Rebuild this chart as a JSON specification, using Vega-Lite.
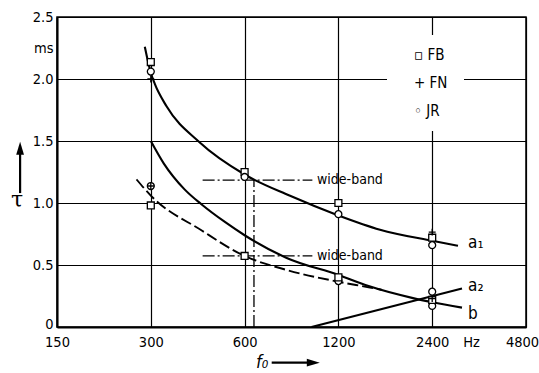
{
 "$schema": "https://vega.github.io/schema/vega-lite/v6.json",
 "width": 469, "height": 310,
 "autosize": {"type": "none"},
 "padding": {"left": 57, "top": 17, "right": 13, "bottom": 46},
 "background": "white",
 "config": {
  "view": {"stroke": "black", "strokeWidth": 1.5},
  "font": "DejaVu Sans Condensed, Liberation Sans, sans-serif",
  "axis": {"grid": true, "gridColor": "black", "gridWidth": 1.2, "gridOpacity": 1, "domainColor": "black", "domainWidth": 2, "ticks": false, "labelColor": "black", "labelFont": "DejaVu Sans Condensed, Liberation Sans, sans-serif", "labelFontSize": 14.5, "title": null},
  "text": {"color": "black"}
 },
 "datasets": {
  "obs": [
   {"subject": "FB", "f": 300, "tau": 2.137},
   {"subject": "JR", "f": 300, "tau": 2.06},
   {"subject": "FB", "f": 300, "tau": 0.98},
   {"subject": "JR", "f": 300, "tau": 1.137},
   {"subject": "FB", "f": 600, "tau": 1.25},
   {"subject": "JR", "f": 600, "tau": 1.21},
   {"subject": "FB", "f": 600, "tau": 0.573},
   {"subject": "FB", "f": 1200, "tau": 1.0},
   {"subject": "JR", "f": 1200, "tau": 0.91},
   {"subject": "JR", "f": 1200, "tau": 0.37},
   {"subject": "FB", "f": 1200, "tau": 0.40},
   {"subject": "FB", "f": 2400, "tau": 0.72},
   {"subject": "JR", "f": 2400, "tau": 0.66},
   {"subject": "JR", "f": 2400, "tau": 0.285},
   {"subject": "JR", "f": 2400, "tau": 0.17},
   {"subject": "FB", "f": 2400, "tau": 0.218},
   {"subject": "FN", "f": 300, "tau": 2.0},
   {"subject": "FN", "f": 300, "tau": 1.137},
   {"subject": "FN", "f": 2400, "tau": 0.765},
   {"subject": "FN", "f": 2400, "tau": 0.23}
  ],
  "curves": [
   {"curve": "a1", "f": 287, "tau": 2.26},
   {"curve": "a1", "f": 300, "tau": 2.05},
   {"curve": "a1", "f": 309, "tau": 1.96},
   {"curve": "a1", "f": 337, "tau": 1.78},
   {"curve": "a1", "f": 430, "tau": 1.49},
   {"curve": "a1", "f": 600, "tau": 1.23},
   {"curve": "a1", "f": 836, "tau": 1.06},
   {"curve": "a1", "f": 1200, "tau": 0.90},
   {"curve": "a1", "f": 1632, "tau": 0.785},
   {"curve": "a1", "f": 2400, "tau": 0.695},
   {"curve": "a1", "f": 2904, "tau": 0.655},
   {"curve": "b", "f": 300, "tau": 1.50},
   {"curve": "b", "f": 330, "tau": 1.32},
   {"curve": "b", "f": 385, "tau": 1.11},
   {"curve": "b", "f": 436, "tau": 0.99},
   {"curve": "b", "f": 520, "tau": 0.845},
   {"curve": "b", "f": 600, "tau": 0.74},
   {"curve": "b", "f": 819, "tau": 0.557},
   {"curve": "b", "f": 1200, "tau": 0.42},
   {"curve": "b", "f": 1500, "tau": 0.33},
   {"curve": "b", "f": 2083, "tau": 0.233},
   {"curve": "b", "f": 2400, "tau": 0.20},
   {"curve": "b", "f": 2991, "tau": 0.156},
   {"curve": "a2", "f": 984, "tau": 0},
   {"curve": "a2", "f": 2991, "tau": 0.31}
  ],
  "dashed": [
   {"f": 270, "tau": 1.19},
   {"f": 300, "tau": 1.06},
   {"f": 436, "tau": 0.78},
   {"f": 600, "tau": 0.573},
   {"f": 819, "tau": 0.46},
   {"f": 1200, "tau": 0.365},
   {"f": 1500, "tau": 0.32},
   {"f": 1650, "tau": 0.30}
  ],
  "wideband": [
   {"f1": 440, "f2": 990, "t1": 1.185, "t2": 1.185},
   {"f1": 440, "f2": 990, "t1": 0.573, "t2": 0.573},
   {"f1": 643, "f2": 643, "t1": 0, "t2": 1.185}
  ],
  "wbLabels": [
   {"text": "wide-band", "f": 1025, "tau": 1.185},
   {"text": "wide-band", "f": 1025, "tau": 0.573}
  ],
  "curveLabels": [
   {"text": "a₁", "f": 3128, "tau": 0.637},
   {"text": "a₂", "f": 3128, "tau": 0.29},
   {"text": "b", "f": 3128, "tau": 0.065}
  ],
  "tauLabel": [{"text": "τ", "f": 111.6, "tau": 1.024}],
  "fLabel": [{"text": "f₀", "f": 653, "tau": -0.33}],
  "arrows": [
   {"f1": 114.2, "f2": 114.2, "t1": 1.08, "t2": 1.43},
   {"f1": 733, "f2": 960, "t1": -0.288, "t2": -0.288}
  ],
  "headUp": [{"f": 114.2, "tau": 1.442}],
  "headRight": [{"f": 996.8, "tau": -0.288}]
 },
 "layer": [
  {
   "data": {"name": "curves"},
   "mark": {"type": "line", "interpolate": "monotone", "stroke": "black", "strokeWidth": 2.1, "strokeCap": "butt"},
   "encoding": {
    "x": {"field": "f", "type": "quantitative", "scale": {"type": "log", "base": 2, "domain": [150, 4800], "nice": false},
     "axis": {"values": [150, 300, 600, 1200, 2400, 3200, 4800], "labelExpr": "datum.value == 3200 ? 'Hz' : format(datum.value, 'd')", "gridColor": {"condition": {"test": "datum.value == 3200", "value": "transparent"}, "value": "black"}, "labelOffset": {"condition": {"test": "datum.value == 4800", "value": -4}, "value": 0}, "labelFlush": false, "labelOverlap": false, "labelPadding": 8}},
    "y": {"field": "tau", "type": "quantitative", "scale": {"domain": [0, 2.5], "nice": false, "zero": false},
     "axis": {"values": [0, 0.5, 1, 1.5, 2, 2.25, 2.5], "labelExpr": "datum.value == 2.25 ? 'ms' : (datum.value == 0 ? '0' : format(datum.value, '.1f'))", "gridColor": {"condition": {"test": "datum.value == 2.25", "value": "transparent"}, "value": "black"}, "labelOffset": {"condition": {"test": "datum.value == 0", "value": -3}, "value": 0}, "labelPadding": 4}},
    "detail": {"field": "curve", "type": "nominal"}
   }
  },
  {
   "data": {"name": "dashed"},
   "mark": {"type": "line", "interpolate": "monotone", "stroke": "black", "strokeWidth": 1.9, "strokeDash": [11, 4], "strokeCap": "butt"},
   "encoding": {
    "x": {"field": "f", "type": "quantitative"},
    "y": {"field": "tau", "type": "quantitative"}
   }
  },
  {
   "data": {"name": "wideband"},
   "mark": {"type": "rule", "stroke": "black", "strokeWidth": 1.3, "strokeDash": [12, 3, 2, 3]},
   "encoding": {
    "x": {"field": "f1", "type": "quantitative"},
    "x2": {"field": "f2"},
    "y": {"field": "t1", "type": "quantitative"},
    "y2": {"field": "t2"}
   }
  },
  {
   "data": {"name": "obs"},
   "mark": {"type": "point", "filled": false, "fill": "white", "color": "black", "stroke": "black", "strokeWidth": 1.3, "opacity": 1, "size": 48},
   "encoding": {
    "x": {"field": "f", "type": "quantitative"},
    "y": {"field": "tau", "type": "quantitative"},
    "shape": {"field": "subject", "type": "nominal",
     "scale": {"domain": ["FB", "FN", "JR"], "range": ["square", "M-1,0L1,0M0,-1L0,1", "circle"]},
     "legend": {"orient": "none", "legendX": 330, "legendY": 18, "title": null, "fillColor": "white", "padding": 12, "labelFont": "DejaVu Sans Condensed, Liberation Sans, sans-serif", "labelFontSize": 15, "labelColor": "black", "labelOffset": 0, "rowPadding": 12, "symbolSize": 0, "symbolOpacity": 0,
      "labelExpr": "datum.label == 'FB' ? '▫  FB' : (datum.label == 'FN' ? '+  FN' : '◦  JR')"}}
   }
  },
  {
   "data": {"name": "wbLabels"},
   "mark": {"type": "text", "align": "left", "baseline": "middle", "font": "DejaVu Sans Condensed, Liberation Sans, sans-serif", "fontSize": 14, "color": "black"},
   "encoding": {
    "x": {"field": "f", "type": "quantitative"},
    "y": {"field": "tau", "type": "quantitative"},
    "text": {"field": "text"}
   }
  },
  {
   "data": {"name": "curveLabels"},
   "mark": {"type": "text", "align": "left", "baseline": "alphabetic", "font": "DejaVu Sans Condensed, Liberation Sans, sans-serif", "fontSize": 17, "color": "black"},
   "encoding": {
    "x": {"field": "f", "type": "quantitative"},
    "y": {"field": "tau", "type": "quantitative"},
    "text": {"field": "text"}
   }
  },
  {
   "data": {"name": "tauLabel"},
   "mark": {"type": "text", "align": "center", "baseline": "middle", "font": "DejaVu Serif", "fontSize": 22, "color": "black"},
   "encoding": {
    "x": {"field": "f", "type": "quantitative"},
    "y": {"field": "tau", "type": "quantitative"},
    "text": {"field": "text"}
   }
  },
  {
   "data": {"name": "fLabel"},
   "mark": {"type": "text", "align": "left", "baseline": "alphabetic", "font": "DejaVu Sans Condensed, Liberation Sans, sans-serif", "fontStyle": "italic", "fontSize": 18, "color": "black"},
   "encoding": {
    "x": {"field": "f", "type": "quantitative"},
    "y": {"field": "tau", "type": "quantitative"},
    "text": {"field": "text"}
   }
  },
  {
   "data": {"name": "arrows"},
   "mark": {"type": "rule", "stroke": "black", "strokeWidth": 2.2},
   "encoding": {
    "x": {"field": "f1", "type": "quantitative"},
    "x2": {"field": "f2"},
    "y": {"field": "t1", "type": "quantitative"},
    "y2": {"field": "t2"}
   }
  },
  {
   "data": {"name": "headUp"},
   "mark": {"type": "point", "shape": "M0,-1L0.6,1L-0.6,1Z", "filled": true, "color": "black", "size": 169, "opacity": 1},
   "encoding": {
    "x": {"field": "f", "type": "quantitative"},
    "y": {"field": "tau", "type": "quantitative"}
   }
  },
  {
   "data": {"name": "headRight"},
   "mark": {"type": "point", "shape": "M1,0L-1,0.6L-1,-0.6Z", "filled": true, "color": "black", "size": 169, "opacity": 1},
   "encoding": {
    "x": {"field": "f", "type": "quantitative"},
    "y": {"field": "tau", "type": "quantitative"}
   }
  }
 ]
}
